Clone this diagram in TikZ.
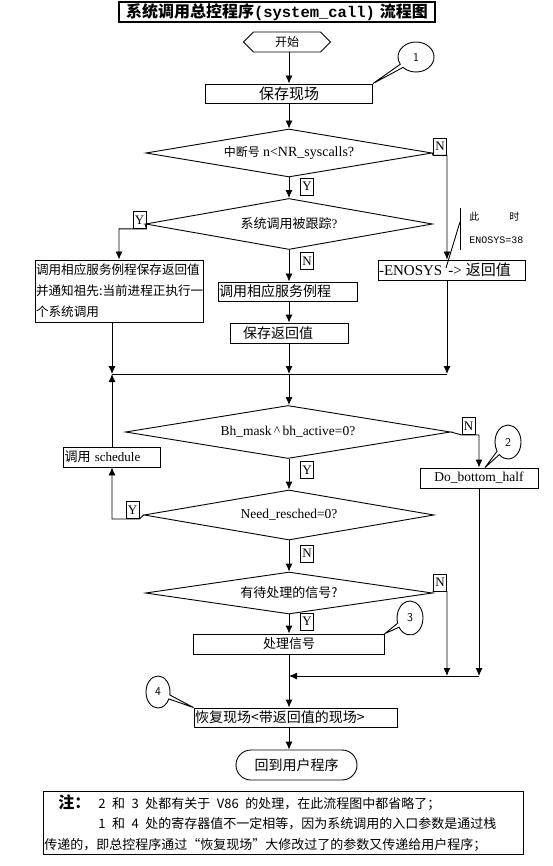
\documentclass[tikz,border=0pt]{standalone}
\usepackage{fontspec}
\setmainfont{Liberation Serif}
\setmonofont{Liberation Mono}
\newfontfamily\cjk{Noto Sans CJK SC}
\usetikzlibrary{arrows.meta,shapes.geometric,shapes.misc,shapes.symbols,shapes.callouts,calc}
\newcommand{\pxfont}[1]{\fontsize{#1}{#1}\selectfont}

\begin{document}
\begin{tikzpicture}[x=1pt,y=-1pt,line width=0.9pt,
    flow/.style={-{Latex[length=8pt,width=7pt]}},
    box/.style={draw, rectangle, inner sep=1pt, font=\cjk\pxfont{13}},
    decide/.style={draw, diamond, aspect=6, inner sep=0pt, font=\pxfont{13}},
    yn/.style={draw, inner sep=0pt, minimum width=13pt, minimum height=17pt, font=\pxfont{13}},
    tag/.style={draw, ellipse callout, inner sep=0pt, font=\sffamily\pxfont{12}}]
    \useasboundingbox (0,0) rectangle (552,866);

    % title and start
    \node [draw, line width=1.2pt, minimum width=316pt, minimum height=20pt, inner sep=0pt] (title) at (277,12)
      {{\cjk\bfseries\pxfont{16}系统调用总控程序}{\ttfamily\bfseries\pxfont{15.5}(system\_call)}\hspace{5pt}{\cjk\bfseries\pxfont{16}流程图}};
    \node [draw, signal, signal to=east and west, minimum width=87pt, minimum height=20pt, inner sep=0pt, font=\cjk\pxfont{12}] (start) at (287,42) {开始};
    \node [box, minimum width=167pt, minimum height=19pt, font=\cjk\pxfont{15}] (save) at (289,93.5) {保存现场};
    \node [tag, minimum width=36pt, minimum height=30pt, callout absolute pointer={(save.north east)}] (c1) at (416,57) {1};

    % range check and trace check
    \node [decide, minimum width=286pt, minimum height=48pt] (d1) at (289,153) {{\cjk\pxfont{12}中断号} {\pxfont{14}n<NR\_syscalls?}};
    \node [yn] (n1) at (440,146.5) {N};
    \node [yn] (y1) at (307,186.5) {Y};
    \node [decide, minimum width=287pt, minimum height=51pt] (d2) at (289,224) {{\cjk 系统调用被跟踪}?};
    \node [yn] (y2) at (139.5,220) {Y};
    \node [yn] (n2) at (307,261) {N};

    \node [box, minimum width=168pt, minimum height=62pt, text width=166pt, align=left, font=\cjk\fontsize{12.6}{21}\selectfont] (traced) at (119,291)
      {调用相应服务例程保存返回值\\并通知祖先:当前进程正执行一\\个系统调用};
    \node [box, minimum width=139pt, minimum height=19pt, text width=137pt, align=left, font=\cjk\pxfont{14}] (service) at (287.5,291.5) {调用相应服务例程};
    \node [box, minimum width=118pt, minimum height=20pt, text width=116pt, align=left, font=\cjk\pxfont{14}] (saveret) at (289,333) {\hspace*{12pt}保存返回值};
    \node [box, minimum width=147pt, minimum height=20pt, text width=145pt, align=left, font=\pxfont{15}] (enosys) at (451.5,270) {-ENOSYS\hspace{6pt}->\hspace{4pt}{\cjk 返回值}};

    % remark on ENOSYS
    \node [anchor=west, align=left, inner sep=0pt, font=\ttfamily\fontsize{10}{23}\selectfont] (remark) at (469,228)
      {{\cjk 此}\hspace{30pt}{\cjk 时}\\ENOSYS=38};
    \coordinate (bar-top) at (460,208);
    \coordinate (bar-bot) at (460,250);
    \coordinate (bar-tip) at (446,268);
    \draw (bar-top) -- (bar-bot);
    \draw ($(bar-top)!0.33!(bar-bot)$) -- (bar-tip);

    \draw [flow] (start.south -| save.north) -- (save.north);
    \draw [flow] (save.south) -- (d1.north);
    \draw [flow] (d1.south) -- (d2.north);
    \draw [flow] (d1.east) -- (n1.south west) -- (n1.south east) -- (n1.south east |- enosys.north);
    \draw [flow] (d2.west) -- (y2.south east) -| (traced.north);
    \draw [flow] (d2.south) -- (d2.south |- service.north);
    \draw [flow] (saveret.north |- service.south) -- (saveret.north);

    % merge
    \coordinate (mL) at (112,374);
    \coordinate (mC) at (289,374);
    \coordinate (mR) at (447,374);
    \draw (mL) -- (mR);
    \draw [flow] (traced.south -| mL) -- (mL);
    \draw [flow] (saveret.south) -- (mC);
    \draw [flow] (enosys.south -| mR) -- (mR);

    % bottom half and reschedule
    \node [decide, minimum width=325pt, minimum height=53pt, font=\pxfont{13.5}] (d3) at (288,432) {Bh\_mask\,\textasciicircum\,bh\_active=0?};
    \node [yn] (n3) at (468.5,426) {N};
    \node [yn] (y3) at (307,470) {Y};
    \node [box, minimum width=118pt, minimum height=20pt, font=\pxfont{13.5}] (dobh) at (479,478) {Do\_bottom\_half};
    \node [tag, minimum width=26pt, minimum height=34pt, callout absolute pointer={($(dobh.north)+(6,0)$)}] (c2) at (508,442) {2};
    \node [box, minimum width=97pt, minimum height=20pt, text width=95pt, align=left, font=\pxfont{13}] (sched) at (112,457) {{\cjk 调用} schedule};

    \node [decide, minimum width=290pt, minimum height=50pt, font=\pxfont{13.5}] (d4) at (289,515) {Need\_resched=0?};
    \node [yn] (y4) at (132.5,510) {Y};
    \node [yn] (n4) at (307,553.5) {N};

    \draw [flow] (mC) -- (mC |- d3.north);
    \draw [flow] (d3.east) -- (n3.south west) -- (n3.south east) -| (dobh.north);
    \draw [flow] (d3.south -| d4.north) -- (d4.north);
    \draw [flow] (d4.west) -- (y4.south east) -| (sched.south);
    \draw [flow] (sched.north) -- (mL);

    % signals
    \node [decide, minimum width=287pt, minimum height=42pt, font=\cjk\pxfont{13}] (d5) at (289,593) {有待处理的信号?};
    \node [yn] (n5) at (440,582.5) {N};
    \node [yn] (y5) at (307,621.5) {Y};
    \node [box, minimum width=191pt, minimum height=20pt, font=\cjk\pxfont{13}] (sig) at (289,644) {处理信号};
    \node [tag, minimum width=26pt, minimum height=34pt, callout absolute pointer={(sig.north east)}] (c3) at (410,618) {3};

    \coordinate (jR) at (479,676);
    \coordinate (jC) at (289,676);
    \draw [flow] (d4.south) -- (d5.north);
    \draw [flow] (d5.south) -- (sig.north);
    \draw [flow] (dobh.south) -- (jR);
    \draw [flow] (d5.east) -- (n5.south west) -- (n5.south east) -- (n5.south east |- jR);
    \draw [flow] (jR) -- (jC);

    % restore and return
    \node [box, minimum width=203pt, minimum height=19pt, text width=201pt, align=left, font=\cjk\pxfont{14}] (restore) at (295.5,717.5) {恢复现场<带返回值的现场>};
    \node [tag, minimum width=24pt, minimum height=32pt, callout absolute pointer={(restore.north west)}] (c4) at (158,692) {4};
    \node [draw, rounded rectangle, minimum width=121pt, minimum height=30pt, inner sep=0pt, font=\cjk\pxfont{14}] (final) at (296.5,765) {回到用户程序};
    \draw [flow] (sig.south) -- (sig.south |- restore.north);
    \draw [flow] (sig.south |- restore.south) -- (sig.south |- final.north);

    % note
    \node [draw, minimum width=480pt, minimum height=63pt, inner sep=0pt] (notebox) at (283,822.5) {};
    \node [anchor=north west, align=left, inner sep=0pt, font=\cjk\fontsize{13}{20.5}\selectfont] (notetext) at (44,794)
      {\hspace*{14pt}{\bfseries\pxfont{16}注：}\hspace{8pt}2\enspace 和\enspace 3\enspace 处都有关于\enspace V86\enspace 的处理，在此流程图中都省略了；\\
       \hspace*{54pt}1\enspace 和\enspace 4\enspace 处的寄存器值不一定相等，因为系统调用的入口参数是通过栈\\
       传递的，即总控程序通过“恢复现场”大修改过了的参数又传递给用户程序；};
  \end{tikzpicture}
\end{document}
